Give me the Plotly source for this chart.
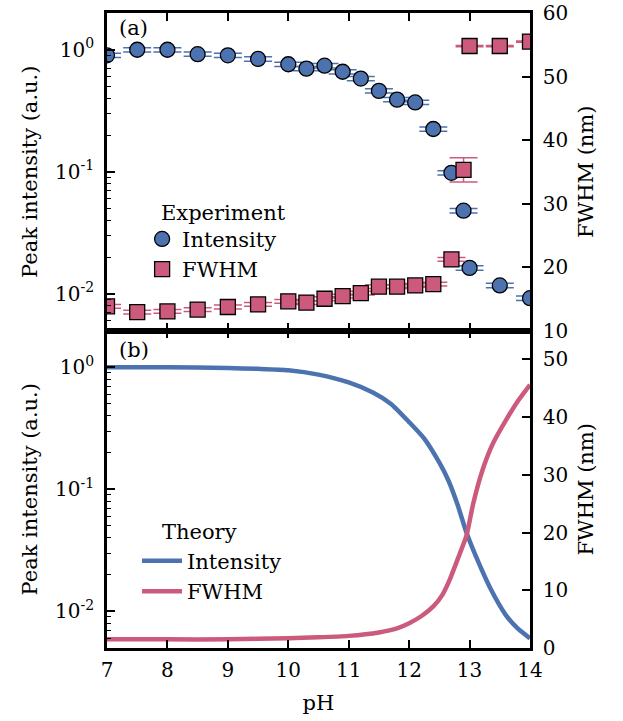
import plotly.graph_objects as go

# ---------------- data ----------------
# Experiment (panel a)
exp_ph_int = [7.0, 7.5, 8.0, 8.5, 9.0, 9.5, 10.0, 10.3, 10.6, 10.9, 11.2, 11.5, 11.8, 12.1, 12.4, 12.7, 12.9, 13.0, 13.5, 14.0]
exp_int = [0.90, 1.0, 1.0, 0.92, 0.90, 0.84, 0.76, 0.70, 0.74, 0.66, 0.58, 0.46, 0.39, 0.37, 0.224, 0.098, 0.048, 0.0163, 0.0117, 0.0092]
exp_int_err = [0.036, 0.040, 0.040, 0.037, 0.036, 0.034, 0.030, 0.028, 0.030, 0.026, 0.023, 0.018, 0.016, 0.015, 0.009, 0.004, 0.002, 0.0007, 0.0005, 0.0004]

exp_ph_fwhm = [7.0, 7.5, 8.0, 8.5, 9.0, 9.5, 10.0, 10.3, 10.6, 10.9, 11.2, 11.5, 11.8, 12.1, 12.4, 12.7, 12.9, 13.0, 13.5, 14.0]
exp_fwhm = [13.8, 12.9, 13.0, 13.3, 13.7, 14.1, 14.6, 14.4, 15.0, 15.4, 15.9, 16.9, 16.9, 17.1, 17.3, 21.2, 35.3, 54.8, 54.8, 55.5]
exp_fwhm_err = [0.3, 0.3, 0.3, 0.3, 0.3, 0.3, 0.3, 0.3, 0.3, 0.3, 0.3, 0.3, 0.3, 0.3, 0.3, 0.3, 1.9, 0.1, 0.1, 0.1]

# Theory (panel b)
th_ph_int = [7.0, 8.0, 9.0, 9.5, 10.0, 10.5, 11.0, 11.4, 11.7, 12.0, 12.25, 12.5, 12.65, 12.8, 12.95, 13.15, 13.35, 13.6, 13.8, 14.0]
th_int = [1.0, 1.0, 0.985, 0.97, 0.945, 0.87, 0.75, 0.62, 0.50, 0.355, 0.26, 0.165, 0.118, 0.075, 0.044, 0.025, 0.0152, 0.0093, 0.0072, 0.0060]

th_ph_fwhm = [7.0, 8.0, 9.0, 10.0, 10.5, 11.0, 11.5, 11.8, 12.0, 12.2, 12.4, 12.55, 12.67, 12.84, 12.95, 13.06, 13.22, 13.39, 13.61, 13.8, 14.0]
th_fwhm = [1.5, 1.5, 1.5, 1.7, 1.85, 2.1, 2.7, 3.4, 4.3, 5.5, 7.2, 9.2, 11.8, 16.4, 19.5, 25.0, 31.0, 35.5, 39.6, 42.8, 45.6]

x_ticks = [7, 8, 9, 10, 11, 12, 13, 14]
log_ticks = [0.01, 0.1, 1]
log_ticktext = ["10<sup>-2</sup>", "10<sup>-1</sup>", "10<sup>0</sup>"]
minor_log = [0.005, 0.006, 0.007, 0.008, 0.009, 0.02, 0.03, 0.04, 0.05, 0.06, 0.07, 0.08, 0.09,
             0.2, 0.3, 0.4, 0.5, 0.6, 0.7, 0.8, 0.9, 2]

BLUE = "#4C72B0"
PINK = "#CC5A7C"
FONT = "DejaVu Serif, Liberation Serif, serif"
FS = 21
TFS = 20

fig = go.Figure()

# panel a
fig.add_trace(go.Scatter(
    x=exp_ph_int, y=exp_int, mode="markers", name="Intensity", legend="legend",
    xaxis="x2", yaxis="y",
    marker=dict(symbol="circle", size=15, color=BLUE, line=dict(color="black", width=1.3)),
    error_y=dict(type="data", array=exp_int_err, color=BLUE, thickness=1.5, width=14),
))
fig.add_trace(go.Scatter(
    x=exp_ph_fwhm, y=exp_fwhm, mode="markers", name="FWHM", legend="legend",
    xaxis="x2", yaxis="y2",
    marker=dict(symbol="square", size=15, color=PINK, line=dict(color="black", width=1.3)),
    error_y=dict(type="data", array=exp_fwhm_err, color=PINK, thickness=1.5, width=14),
))
# panel b
fig.add_trace(go.Scatter(
    x=th_ph_int, y=th_int, mode="lines", name="Intensity", legend="legend2",
    xaxis="x", yaxis="y3", line=dict(color=BLUE, width=4.5, shape="spline", smoothing=0.6),
))
fig.add_trace(go.Scatter(
    x=th_ph_fwhm, y=th_fwhm, mode="lines", name="FWHM", legend="legend2",
    xaxis="x", yaxis="y4", line=dict(color=PINK, width=4.5, shape="spline", smoothing=0.6),
))

axis_common = dict(showline=True, linecolor="black", linewidth=2.6, ticks="inside",
                   ticklen=8, tickwidth=1.6, tickcolor="black", showgrid=False, zeroline=False,
                   automargin=False,
                   tickfont=dict(family=FONT, size=TFS, color="black"))
title_font = dict(family=FONT, size=FS, color="black")

fig.update_layout(
    width=623, height=721,
    margin=dict(l=107, r=93, t=13, b=73),
    plot_bgcolor="white", paper_bgcolor="white",
    font=dict(family=FONT, size=FS, color="black"),
    showlegend=True,
    xaxis=dict(domain=[0, 1], anchor="y3", range=[7, 14], tickvals=x_ticks, mirror="ticks",
               title=dict(text="pH", standoff=15, font=title_font), ticklabelstandoff=2, **axis_common),
    xaxis2=dict(domain=[0, 1], anchor="y", range=[7, 14], tickvals=x_ticks, mirror="ticks",
                matches="x", showticklabels=False, **axis_common),
    yaxis=dict(domain=[0.5, 1], anchor="x2", type="log", range=[-2.30103, 0.30103],
               tickvals=log_ticks, ticktext=log_ticktext, ticklabelstandoff=6,
               minor=dict(tickmode="array", tickvals=minor_log, ticks="inside", ticklen=4,
                          tickwidth=1.3, tickcolor="black", showgrid=False),
               title=dict(text="Peak intensity (a.u.)", standoff=12, font=title_font), **axis_common),
    yaxis2=dict(overlaying="y", anchor="x2", side="right", range=[10, 60], dtick=10,
                ticklabelstandoff=6, title=dict(text="FWHM (nm)", standoff=12, font=title_font),
                **axis_common),
    yaxis3=dict(domain=[0, 0.5], anchor="x", type="log", range=[-2.30103, 0.30103],
                tickvals=log_ticks, ticktext=log_ticktext, ticklabelstandoff=6,
                minor=dict(tickmode="array", tickvals=minor_log, ticks="inside", ticklen=4,
                           tickwidth=1.3, tickcolor="black", showgrid=False),
                title=dict(text="Peak intensity (a.u.)", standoff=12, font=title_font), **axis_common),
    yaxis4=dict(overlaying="y3", anchor="x", side="right", range=[0, 55], dtick=10,
                ticklabelstandoff=6, title=dict(text="FWHM (nm)", standoff=12, font=title_font),
                **axis_common),
    legend=dict(x=0.083, y=0.676, xanchor="left", yanchor="top", bgcolor="rgba(0,0,0,0)",
                font=dict(family=FONT, size=FS), itemwidth=30, tracegroupgap=0),
    legend2=dict(x=0.071, y=0.169, xanchor="left", yanchor="top", bgcolor="rgba(0,0,0,0)",
                 font=dict(family=FONT, size=FS), itemwidth=40, tracegroupgap=0),
    annotations=[
        dict(text="(a)", xref="paper", yref="y domain", x=0.024, y=0.953, xanchor="left",
             yanchor="middle", showarrow=False, font=dict(family=FONT, size=FS)),
        dict(text="(b)", xref="paper", yref="y3 domain", x=0.024, y=0.94, xanchor="left",
             yanchor="middle", showarrow=False, font=dict(family=FONT, size=FS)),
        dict(text="Experiment", xref="paper", yref="paper", x=0.123, y=0.685, xanchor="left",
             yanchor="middle", showarrow=False, font=dict(family=FONT, size=FS)),
        dict(text="Theory", xref="paper", yref="paper", x=0.125, y=0.183, xanchor="left",
             yanchor="middle", showarrow=False, font=dict(family=FONT, size=FS)),
    ],
)

fig.write_html("out.html")
